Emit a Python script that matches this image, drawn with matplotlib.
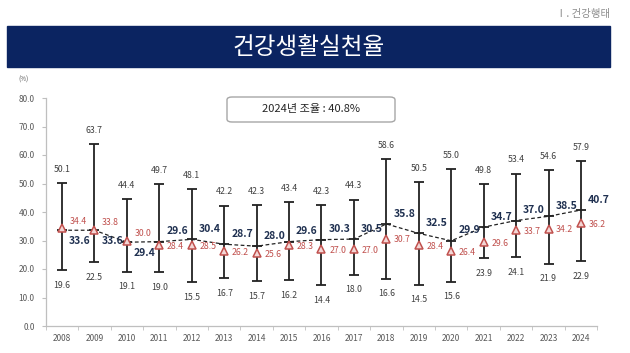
import matplotlib
matplotlib.use('Agg')
import matplotlib.pyplot as plt
from matplotlib.patches import Rectangle, FancyBboxPatch
import numpy as np

plt.rcParams['font.family'] = ['Noto Sans CJK KR', 'DejaVu Sans']

years = ['2008', '2009', '2010', '2011', '2012', '2013', '2014', '2015', '2016',
         '2017', '2018', '2019', '2020', '2021', '2022', '2023', '2024']
adjusted = [33.6, 33.6, 29.4, 29.6, 30.4, 28.7, 28.0, 29.6, 30.3, 30.5, 35.8,
            32.5, 29.9, 34.7, 37.0, 38.5, 40.7]
crude = [34.4, 33.8, 30.0, 28.4, 28.5, 26.2, 25.6, 28.3, 27.0, 27.0, 30.7,
         28.4, 26.4, 29.6, 33.7, 34.2, 36.2]
max_vals = [50.1, 63.7, 44.4, 49.7, 48.1, 42.2, 42.3, 43.4, 42.3, 44.3, 58.6,
            50.5, 55.0, 49.8, 53.4, 54.6, 57.9]
min_vals = [19.6, 22.5, 19.1, 19.0, 15.5, 16.7, 15.7, 16.2, 14.4, 18.0, 16.6,
            14.5, 15.6, 23.9, 24.1, 21.9, 22.9]

x = np.arange(len(years))
navy = '#1f3050'
red = '#c0504d'

fig = plt.figure(figsize=(6.3, 3.53), dpi=100)

# header band
fig.patches.append(Rectangle((7 / 630, 1 - 67 / 353), 603 / 630, 41 / 353,
                             transform=fig.transFigure, color='#0b2461', zorder=0))
fig.text(309 / 630, 1 - 47 / 353, '건강생활실천율', color='white', fontsize=17,
         ha='center', va='center')
fig.text(610 / 630, 1 - 14 / 353, 'Ⅰ. 건강행태', color='#8c8c8c', fontsize=7.5,
         ha='right', va='center')
fig.text(18 / 630, 1 - 80 / 353, '(%)', color='#595959', fontsize=4.5,
         ha='left', va='center')

ax = fig.add_axes([45.8 / 630, 1 - 326 / 353, 551.4 / 630, 228 / 353])

lo = np.array(adjusted) - np.array(min_vals)
hi = np.array(max_vals) - np.array(adjusted)
ax.errorbar(x, adjusted, yerr=[lo, hi], fmt='none', ecolor='#222222',
            elinewidth=1.3, capsize=3.4, capthick=1.3, zorder=2)
ax.plot(x, adjusted, ls=(0, (3, 2)), color='#222222', lw=0.9, zorder=3)
ax.plot(x, adjusted, ls='none', marker='_', ms=7, mew=1.3, color='#222222', zorder=4)
ax.plot(x, crude, ls='none', marker='^', ms=5.5, mfc='#f3d6d5', mec=red, mew=1.1, zorder=5)

for i in range(len(years)):
    ax.annotate(f'{max_vals[i]:.1f}', (x[i], max_vals[i]), xytext=(0, 10),
                textcoords='offset points', ha='center', va='center',
                fontsize=6.3, color='#404040')
    ax.annotate(f'{min_vals[i]:.1f}', (x[i], min_vals[i]), xytext=(0, -11),
                textcoords='offset points', ha='center', va='center',
                fontsize=6.3, color='#404040')
    dy = -7.5 if i < 3 else 7.5
    ax.annotate(f'{adjusted[i]:.1f}', (x[i], adjusted[i]), xytext=(5, dy),
                textcoords='offset points', ha='left', va='center',
                fontsize=7.5, fontweight='bold', color=navy)
    ry = 5 if i < 3 else -1
    ax.annotate(f'{crude[i]:.1f}', (x[i], crude[i]), xytext=(5.5, ry),
                textcoords='offset points', ha='left', va='center',
                fontsize=6.3, color=red)

# info box
box = FancyBboxPatch((227 / 630, 1 - 122 / 353), 168 / 630, 25 / 353,
                     boxstyle='round,pad=0,rounding_size=0.008',
                     transform=fig.transFigure, fc='white', ec='#a6a6a6', lw=1.0)
fig.patches.append(box)
fig.text(311 / 630, 1 - 109 / 353, '2024년 조율 : 40.8%', fontsize=8,
         color='#262626', ha='center', va='center')

ax.set_xlim(-0.5, len(years) - 0.5)
ax.set_ylim(0, 80)
ax.set_yticks(np.arange(0, 81, 10))
ax.set_yticklabels([f'{v:.1f}' for v in np.arange(0, 81, 10)])
ax.set_xticks(x)
ax.set_xticklabels(years)
ax.set_xticks(np.arange(-0.5, len(years), 1), minor=True)
ax.tick_params(axis='x', which='major', length=0, labelsize=6,
               colors='#595959', pad=6)
ax.tick_params(axis='x', which='minor', length=3, color='#bfbfbf')
ax.tick_params(axis='y', length=3, color='#bfbfbf', labelsize=6,
               labelcolor='#595959', pad=5)
for s in ['top', 'right']:
    ax.spines[s].set_visible(False)
for s in ['left', 'bottom']:
    ax.spines[s].set_color('#bfbfbf')
    ax.spines[s].set_linewidth(0.9)

fig.savefig('out.png', dpi=100)
